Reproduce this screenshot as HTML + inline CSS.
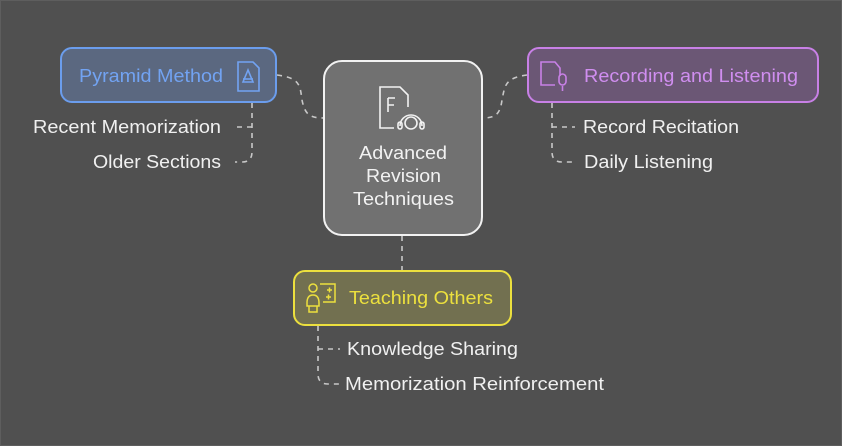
<!DOCTYPE html>
<html><head><meta charset="utf-8"><style>
html,body{margin:0;padding:0;background:#505050;}
svg{display:block}
text{font-family:"Liberation Sans",sans-serif;}
</style></head><body>
<svg width="842" height="446" viewBox="0 0 842 446" xmlns="http://www.w3.org/2000/svg">
<rect x="0.5" y="0.5" width="841" height="445" fill="#505050" stroke="#5e5e5e"/>
<g fill="none" stroke="#c8c8c8" stroke-width="1.6" stroke-dasharray="5,5">
<path d="M277 75 C300 78,300 85,302 100 C305 115,310 118,324 118"/>
<path d="M527 75 C505 78,505 85,502 100 C500 115,495 118,482 118"/>
<path d="M402 236 L402 270"/>
<path d="M252 103 L252 152 Q252 162 242 162 L235 162"/>
<path d="M252 127 L235 127"/>
<path d="M552 103 L552 152 Q552 162 562 162 L575 162"/>
<path d="M552 127 L575 127"/>
<path d="M318 326 L318 374 Q318 384 328 384 L340 384"/>
<path d="M318 349 L340 349"/>
</g>
<rect x="61" y="48" width="215" height="54" rx="11" fill="#5b6880" stroke="#6b9ded" stroke-width="2"/>
<text x="79" y="82" font-size="18" fill="#72a3f2" textLength="144" lengthAdjust="spacingAndGlyphs">Pyramid Method</text>
<g fill="none" stroke="#72a3f2" stroke-width="1.6"><path d="M238 62 h15 l6 6 v23 h-21 z"/><path d="M248 70 l-5 12 h10 z"/><path d="M243 79 h10"/></g>
<rect x="528" y="48" width="290" height="54" rx="11" fill="#6b5775" stroke="#c880e6" stroke-width="2"/>
<text x="584" y="82" font-size="18" fill="#d08ef0" textLength="214" lengthAdjust="spacingAndGlyphs">Recording and Listening</text>
<g fill="none" stroke="#c880e6" stroke-width="1.6"><path d="M555 85 h-14 v-23 h14 l5 6 v8"/><rect x="559" y="74" width="7" height="11" rx="3.5"/><path d="M562.5 86 v5"/></g>
<rect x="324" y="61" width="158" height="174" rx="18" fill="#717171" stroke="#f2f2f2" stroke-width="2"/>
<g fill="none" stroke="#f2f2f2" stroke-width="1.6"><path d="M394 128 h-14 v-41 h20 l8 8 v12"/><path d="M388 98 v14 M388 98 h7 M388 105 h6"/><circle cx="411" cy="123" r="6"/><path d="M400 126 a11 11 0 0 1 22 0"/><rect x="398" y="122" width="4" height="7" rx="2"/><rect x="420" y="122" width="4" height="7" rx="2"/></g>
<text x="359" y="159" font-size="18" fill="#f2f2f2" textLength="88" lengthAdjust="spacingAndGlyphs">Advanced</text>
<text x="366" y="182" font-size="18" fill="#f2f2f2" textLength="75" lengthAdjust="spacingAndGlyphs">Revision</text>
<text x="353" y="205" font-size="18" fill="#f2f2f2" textLength="101" lengthAdjust="spacingAndGlyphs">Techniques</text>
<rect x="294" y="271" width="217" height="54" rx="11" fill="#727050" stroke="#ece03e" stroke-width="2"/>
<text x="349" y="304" font-size="18" fill="#ece03e" textLength="144" lengthAdjust="spacingAndGlyphs">Teaching Others</text>
<g fill="none" stroke="#ece03e" stroke-width="1.5"><circle cx="313" cy="288" r="4"/><path d="M307 303 q0 -8 6 -8 q6 0 6 8 v3 h-12 z M309 306 v6 h8 v-6"/><path d="M320 284 h15 v18 h-12"/><path d="M327 290 h5 M329.5 287.5 v5 M326 297 h5 M328.5 294.5 v5"/></g>
<g font-size="18" fill="#f0f0f0">
<text x="33" y="133" textLength="188" lengthAdjust="spacingAndGlyphs">Recent Memorization</text>
<text x="93" y="168" textLength="128" lengthAdjust="spacingAndGlyphs">Older Sections</text>
<text x="583" y="133" textLength="156" lengthAdjust="spacingAndGlyphs">Record Recitation</text>
<text x="584" y="168" textLength="129" lengthAdjust="spacingAndGlyphs">Daily Listening</text>
<text x="347" y="355" textLength="171" lengthAdjust="spacingAndGlyphs">Knowledge Sharing</text>
<text x="345" y="390" textLength="259" lengthAdjust="spacingAndGlyphs">Memorization Reinforcement</text>
</g>
</svg>
</body></html>
